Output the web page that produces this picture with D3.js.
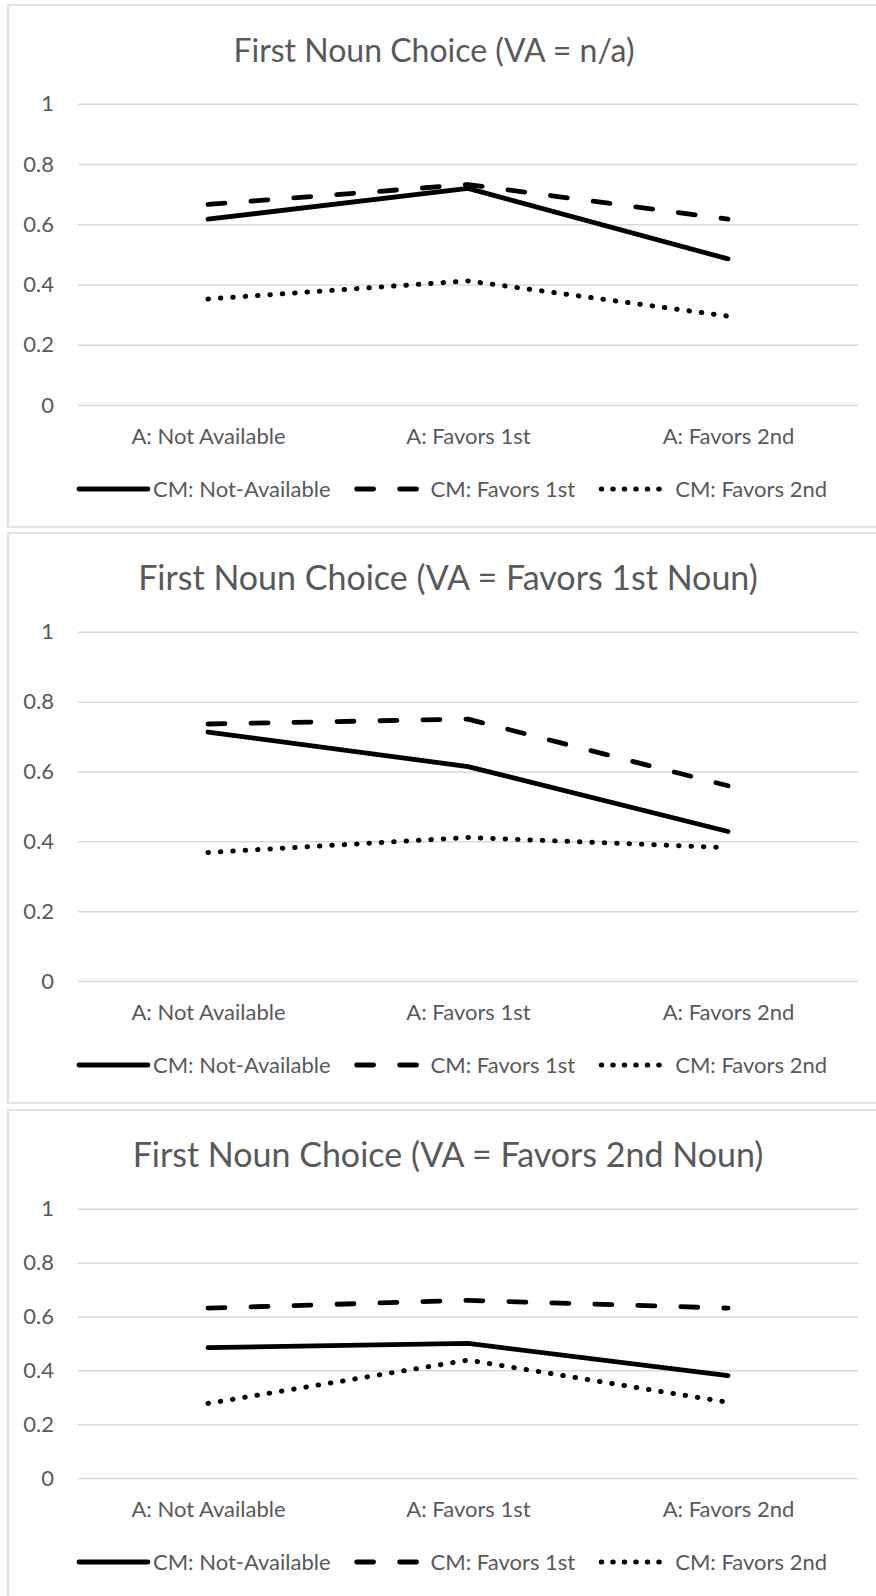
<!DOCTYPE html>
<html>
<head>
<meta charset="utf-8">
<script src="https://cdn.jsdelivr.net/npm/d3@7"></script>
<style>
  html, body { margin: 0; padding: 0; background: #ffffff; }
  svg { display: block; }
  text { font-family: Lato, "Open Sans", sans-serif; fill: #595959; }
</style>
</head>
<body>
<svg id="chart" width="876" height="1596"></svg>
<script>
// ---------- DATA ----------
const categories = ["A: Not Available", "A: Favors 1st", "A: Favors 2nd"];
const seriesNames = ["CM: Not-Available", "CM: Favors 1st", "CM: Favors 2nd"];
const panelTitles = [
  "First Noun Choice (VA = n/a)",
  "First Noun Choice (VA = Favors 1st Noun)",
  "First Noun Choice (VA = Favors 2nd Noun)"
];
const yTicks = [0, 0.2, 0.4, 0.6, 0.8, 1];
const yTickLabels = ["0", "0.2", "0.4", "0.6", "0.8", "1"];

// Panel 1: VA = n/a
const p1NotAvailable = [0.617, 0.719, 0.485];
const p1Favors1st    = [0.666, 0.732, 0.617];
const p1Favors2nd    = [0.352, 0.412, 0.295];
// Panel 2: VA = Favors 1st Noun
const p2NotAvailable = [0.713, 0.614, 0.428];
const p2Favors1st    = [0.736, 0.750, 0.559];
const p2Favors2nd    = [0.368, 0.411, 0.382];
// Panel 3: VA = Favors 2nd Noun
const p3NotAvailable = [0.484, 0.500, 0.380];
const p3Favors1st    = [0.631, 0.660, 0.631];
const p3Favors2nd    = [0.277, 0.438, 0.281];

const panelSeries = [
  [p1NotAvailable, p1Favors1st, p1Favors2nd],
  [p2NotAvailable, p2Favors1st, p2Favors2nd],
  [p3NotAvailable, p3Favors1st, p3Favors2nd]
];

// ---------- LAYOUT / STYLE ----------
const panelBoxes = [
  { top: 5,    bottom: 527,  titleX: 434, titleSize: 32 },
  { top: 533,  bottom: 1103, titleX: 448, titleSize: 34 },
  { top: 1110, bottom: 1600, titleX: 448, titleSize: 34 }
];
const plotLeft = 78, plotRight = 858;
const gridColor = "#d9d9d9";
const labelSize = 22;
const lineStyles = [
  { width: 4.8, dash: null,       legendDash: null },
  { width: 4.8, dash: "17,26",    legendDash: "17,26" },
  { width: 5,   dash: "0.5,11.9", legendDash: "0.5,11" }
];
const legendCenter = 452, legendLineLen = 73, legendTextGap = 3, legendItemGap = 24;

const svg = d3.select("#chart");

panelBoxes.forEach((box, pi) => {
  const g = svg.append("g");
  // border (right edge falls outside the picture)
  g.append("rect")
    .attr("x", 8).attr("y", box.top)
    .attr("width", 900).attr("height", box.bottom - box.top)
    .attr("fill", "#ffffff")
    .attr("stroke", gridColor).attr("stroke-width", 1.5);

  const yTop = box.top + 98.8;
  const yBottom = box.bottom - 122;

  const x = d3.scalePoint().domain(categories).range([plotLeft, plotRight]).padding(0.5);
  const y = d3.scaleLinear().domain([0, 1]).range([yBottom, yTop]);

  // title
  g.append("text")
    .attr("x", box.titleX).attr("y", box.top + 56.7)
    .attr("text-anchor", "middle")
    .style("font-size", box.titleSize + "px")
    .text(panelTitles[pi]);

  // y axis with gridlines
  const yAxis = d3.axisLeft(y)
    .tickValues(yTicks)
    .tickFormat((d, i) => yTickLabels[i])
    .tickSize(-(plotRight - plotLeft))
    .tickPadding(24);
  const ya = g.append("g").attr("transform", `translate(${plotLeft},0)`).call(yAxis);
  ya.select(".domain").remove();
  ya.selectAll(".tick line").attr("stroke", gridColor).attr("stroke-width", 1.5);
  ya.selectAll(".tick text")
    .style("font-size", labelSize + "px")
    .style("font-family", "Lato, 'Open Sans', sans-serif")
    .attr("fill", "#595959");

  // x axis labels
  const xAxis = d3.axisBottom(x).tickSize(0);
  const xa = g.append("g").attr("transform", `translate(0,${yBottom})`).call(xAxis);
  xa.select(".domain").remove();
  xa.selectAll(".tick text")
    .attr("dy", null).attr("y", 39.3)
    .style("font-size", labelSize + "px")
    .style("font-family", "Lato, 'Open Sans', sans-serif")
    .attr("fill", "#595959");

  // series lines
  const line = d3.line()
    .x((d, i) => x(categories[i]))
    .y(d => y(d));
  panelSeries[pi].forEach((vals, si) => {
    const st = lineStyles[si];
    g.append("path")
      .datum(vals)
      .attr("d", line)
      .attr("fill", "none")
      .attr("stroke", "#000000")
      .attr("stroke-width", st.width)
      .attr("stroke-linecap", "round")
      .attr("stroke-linejoin", "round")
      .attr("stroke-dasharray", st.dash);
  });

  // legend
  const lg = g.append("g");
  const lineY = yBottom + 84;
  const textY = yBottom + 91.7;
  let cx = 0;
  seriesNames.forEach((name, si) => {
    const st = lineStyles[si];
    lg.append("line")
      .attr("x1", cx + 2).attr("x2", cx + legendLineLen - 2)
      .attr("y1", lineY).attr("y2", lineY)
      .attr("stroke", "#000000")
      .attr("stroke-width", st.width)
      .attr("stroke-linecap", "round")
      .attr("stroke-dasharray", st.legendDash);
    const tx = lg.append("text")
      .attr("x", cx + legendLineLen + legendTextGap)
      .attr("y", textY)
      .style("font-size", labelSize + "px")
      .text(name);
    const w = tx.node().getComputedTextLength();
    cx += legendLineLen + legendTextGap + w + legendItemGap;
  });
  const total = cx - legendItemGap;
  lg.attr("transform", `translate(${legendCenter - total / 2},0)`);
});
</script>
</body>
</html>
